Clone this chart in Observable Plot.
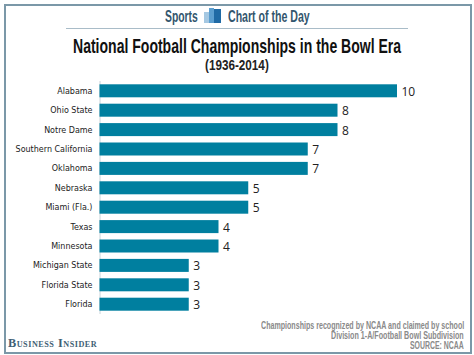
<!DOCTYPE html>
<html><head><meta charset="utf-8">
<script src="https://cdn.jsdelivr.net/npm/d3@7"></script>
<script src="https://cdn.jsdelivr.net/npm/@observablehq/plot@0.6"></script>
<style>
html,body{margin:0;padding:0;background:#fff;overflow:hidden}
#wrap{position:relative;width:474px;height:355px;overflow:hidden}
#wrap>svg{position:absolute;left:0;top:0}
.t{position:absolute;white-space:nowrap;font-family:"Liberation Sans",sans-serif;font-weight:700;transform-origin:0 50%;line-height:1}
.b{position:absolute}
</style></head><body>
<div id="wrap">
<div class="b" style="left:4px;top:4px;width:464px;height:346px;border:2px solid #7b98a8"></div>
<div class="t" data-w="33" style="left:164.5px;top:9px;font-size:16px;color:#33566e">Sports</div>
<div class="b" style="left:204px;top:12px;width:6px;height:11px;background:#a5c8e2"></div>
<div class="b" style="left:209px;top:8px;width:5px;height:15px;background:#5c9fd0"></div>
<div class="b" style="left:214px;top:9px;width:7px;height:14px;background:#1f6aa5"></div>
<div class="t" data-w="82" style="left:228px;top:9px;font-size:16px;color:#33566e">Chart of the Day</div>
<div class="b" style="left:66px;top:28px;width:342px;height:1px;background:#a9bcc8"></div>
<div class="t" data-w="328" style="left:73px;top:35px;font-size:21px;color:#111">National Football Championships in the Bowl Era</div>
<div class="t" data-w="64" style="left:205px;top:56.5px;font-size:15px;color:#222">(1936-2014)</div>
<div class="t" data-w="203" style="left:261px;top:321px;font-size:10px;color:#8a8a8a">Championships recognized by NCAA and claimed by school</div>
<div class="t" data-w="133" style="left:331px;top:331px;font-size:10px;color:#8a8a8a">Division 1-A/Football Bowl Subdivision</div>
<div class="t" data-w="54" style="left:410px;top:341px;font-size:10px;color:#8a8a8a">SOURCE: NCAA</div>
<div class="t" data-w="89" style="left:8px;top:337px;font-family:'Liberation Serif',serif;font-variant:small-caps;font-size:12px;letter-spacing:.5px;color:#3f5f75">Business Insider</div>
</div>
<script>
const schools = ["Alabama","Ohio State","Notre Dame","Southern California","Oklahoma","Nebraska","Miami (Fla.)","Texas","Minnesota","Michigan State","Florida State","Florida"];
const titles = [10,8,8,7,7,5,5,4,4,3,3,3];
const rows = schools.map((school,i)=>({school,count:titles[i]}));
const chart = Plot.plot({
  width:474,height:355,
  marginLeft:99.5,marginRight:77,marginTop:81,marginBottom:41,
  style:{background:"transparent"},
  x:{domain:[0,10],axis:null},
  y:{domain:schools,paddingInner:0.33,paddingOuter:0.17,align:0.5,round:false,label:null},
  marks:[
    Plot.axisY({anchor:"left",tickSize:0,tickPadding:7.5,fontSize:8,label:null,fontFamily:"DejaVu Sans",color:"#222",tickFormat:d=>d}),
    Plot.ruleX([0],{stroke:"#c8d4da",strokeWidth:1}),
    Plot.barX(rows,{x:"count",y:"school",fill:"#007f9f"}),
    Plot.text(rows,{x:"count",y:"school",text:d=>String(d.count),textAnchor:"start",dx:4,dy:0.7,fontSize:12,fontFamily:"Open Sans",fill:"#222"})
  ]
});
document.getElementById("wrap").prepend(chart);
document.querySelectorAll(".t[data-w]").forEach(el=>{
  el.style.transform=`scaleX(${+el.dataset.w/el.offsetWidth})`;
});
</script>
</body></html>
